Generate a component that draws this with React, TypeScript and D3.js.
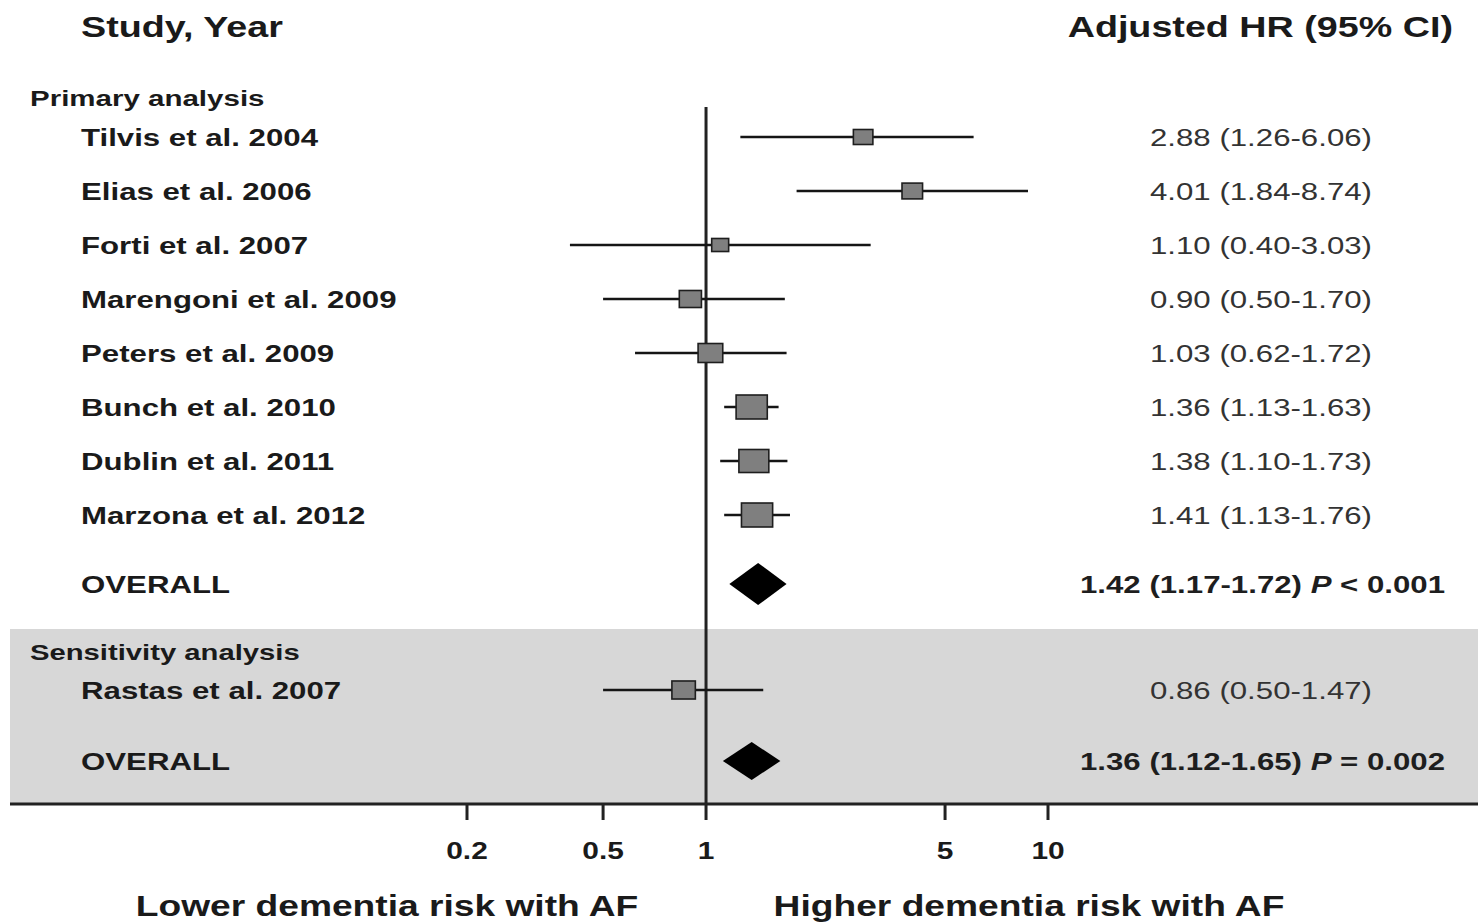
import React from "react";
import * as d3 from "d3";

// ---------- DATA ----------
const studyNames = [
  "Tilvis et al. 2004",
  "Elias et al. 2006",
  "Forti et al. 2007",
  "Marengoni et al. 2009",
  "Peters et al. 2009",
  "Bunch et al. 2010",
  "Dublin et al. 2011",
  "Marzona et al. 2012",
];
const studyHR = [2.88, 4.01, 1.1, 0.9, 1.03, 1.36, 1.38, 1.41];
const studyLo = [1.26, 1.84, 0.4, 0.5, 0.62, 1.13, 1.1, 1.13];
const studyHi = [6.06, 8.74, 3.03, 1.7, 1.72, 1.63, 1.73, 1.76];
// relative study weights
const studyWeights = [9, 10, 6.8, 11.6, 14.4, 23, 21.2, 23];

const overallPrimary = { hr: 1.42, lo: 1.17, hi: 1.72, p: "< 0.001" };

const sensNames = ["Rastas et al. 2007"];
const sensHR = [0.86];
const sensLo = [0.5];
const sensHi = [1.47];
const sensWeights = [13];

const overallSens = { hr: 1.36, lo: 1.12, hi: 1.65, p: "= 0.002" };

const tickValues = [0.2, 0.5, 1, 5, 10];
const tickLabels = ["0.2", "0.5", "1", "5", "10"];

// ---------- LAYOUT ----------
const W = 1478;
const H = 922;
const SX = 1.3; // horizontal text stretch in the reference
const FONT = "'Liberation Sans', Arial, Helvetica, sans-serif";

const fmt = (v: number) => v.toFixed(2);

function T(props: {
  x: number;
  y: number;
  anchor?: "start" | "middle" | "end";
  size: number;
  bold?: boolean;
  fill?: string;
  children: React.ReactNode;
}) {
  const { x, y, anchor = "start", size, bold = true, fill = "#1a1a1a", children } = props;
  return (
    <text
      transform={`translate(${x},${y}) scale(${SX},1)`}
      textAnchor={anchor}
      fontFamily={FONT}
      fontSize={size}
      fontWeight={bold ? 700 : 400}
      fill={fill}
    >
      {children}
    </text>
  );
}

export default function App() {
  const x = d3.scaleLog().domain([0.2, 10]).range([467, 1048]);
  // box height from weight (area proportional to weight)
  const boxH = d3.scaleSqrt().domain([0, 25]).range([0, 25]);

  const rowY0 = 137;
  const rowStep = 54;
  const overall1Y = 584;
  const sensLabelY = 652;
  const sensRowY = 690;
  const overall2Y = 761;
  const axisY = 804;
  const refTop = 107;

  const studyRows = studyNames.map((n, i) => ({
    name: n,
    hr: studyHR[i],
    lo: studyLo[i],
    hi: studyHi[i],
    w: studyWeights[i],
    y: rowY0 + i * rowStep,
  }));
  const sensRows = sensNames.map((n, i) => ({
    name: n,
    hr: sensHR[i],
    lo: sensLo[i],
    hi: sensHi[i],
    w: sensWeights[i],
    y: sensRowY,
  }));

  const diamond = (o: { hr: number; lo: number; hi: number }, y: number, h: number) =>
    `M${x(o.lo)},${y} L${x(o.hr)},${y - h} L${x(o.hi)},${y} L${x(o.hr)},${y + h} Z`;

  const renderStudy = (r: any, key: string) => {
    const bh = boxH(r.w);
    const bw = bh * SX;
    return (
      <g key={key}>
        <T x={81} y={r.y + 9} size={24}>
          {r.name}
        </T>
        <line x1={x(r.lo)} x2={x(r.hi)} y1={r.y} y2={r.y} stroke="#151515" strokeWidth={2.6} />
        <rect
          x={x(r.hr) - bw / 2}
          y={r.y - bh / 2}
          width={bw}
          height={bh}
          fill="#7f7f7f"
          stroke="#1e1e1e"
          strokeWidth={1.6}
        />
        <T x={1150} y={r.y + 9} size={24} bold={false} fill="#333">
          {`${fmt(r.hr)} (${fmt(r.lo)}-${fmt(r.hi)})`}
        </T>
      </g>
    );
  };

  const overallText = (o: typeof overallPrimary, y: number) => (
    <T x={1080} y={y + 9} size={24} fill="#1e1e1e">
      {`${fmt(o.hr)} (${fmt(o.lo)}-${fmt(o.hi)}) `}
      <tspan fontStyle="italic">P</tspan>
      {` ${o.p}`}
    </T>
  );

  return (
    <svg
      width={W}
      height={H}
      style={{ position: "absolute", left: 0, top: 0, background: "#fff" }}
    >
      <rect x={0} y={0} width={W} height={H} fill="#fff" />
      {/* sensitivity band */}
      <rect x={10} y={629} width={W - 10} height={axisY - 629} fill="#d7d7d7" />

      {/* headers */}
      <T x={81} y={37} size={29}>
        Study, Year
      </T>
      <T x={1453} y={37} size={29} anchor="end">
        Adjusted HR (95% CI)
      </T>
      <T x={30} y={106} size={22.7}>
        Primary analysis
      </T>
      <T x={30} y={sensLabelY + 8} size={22.5}>
        Sensitivity analysis
      </T>

      {/* reference line */}
      <line x1={x(1)} x2={x(1)} y1={refTop} y2={axisY} stroke="#222" strokeWidth={3} />

      {studyRows.map((r, i) => renderStudy(r, "s" + i))}

      <T x={81} y={overall1Y + 9} size={24}>
        OVERALL
      </T>
      <path d={diamond(overallPrimary, overall1Y, 21)} fill="#000" />
      {overallText(overallPrimary, overall1Y)}

      {sensRows.map((r, i) => renderStudy(r, "r" + i))}

      <T x={81} y={overall2Y + 9} size={24}>
        OVERALL
      </T>
      <path d={diamond(overallSens, overall2Y, 19)} fill="#000" />
      {overallText(overallSens, overall2Y)}

      {/* axis */}
      <line x1={10} x2={W} y1={axisY} y2={axisY} stroke="#222" strokeWidth={3} />
      {tickValues.map((v, i) => (
        <g key={"t" + i}>
          <line x1={x(v)} x2={x(v)} y1={axisY} y2={axisY + 16} stroke="#222" strokeWidth={3} />
          <T x={x(v)} y={859} size={23} anchor="middle">
            {tickLabels[i]}
          </T>
        </g>
      ))}

      <T x={387} y={916} size={28.6} anchor="middle">
        Lower dementia risk with AF
      </T>
      <T x={1029} y={916} size={28.6} anchor="middle">
        Higher dementia risk with AF
      </T>
    </svg>
  );
}
